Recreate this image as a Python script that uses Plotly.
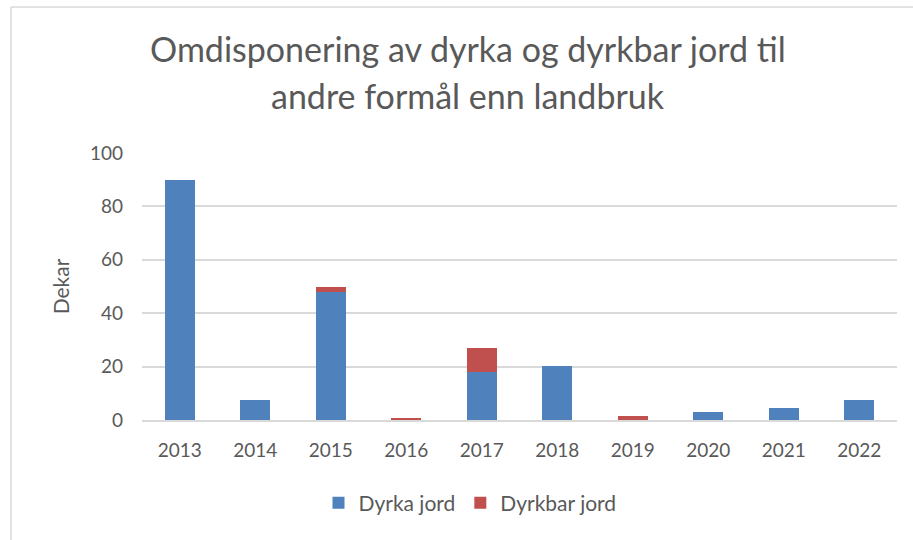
import plotly.graph_objects as go

years = ["2013", "2014", "2015", "2016", "2017", "2018", "2019", "2020", "2021", "2022"]
dyrka_jord = [90, 7.5, 48, 0, 18, 20.2, 0, 3, 4.4, 7.4]
dyrkbar_jord = [0, 0, 2, 0.8, 9, 0, 1.4, 0, 0, 0]
title_lines = ["Omdisponering av dyrka og dyrkbar jord til", "andre formål enn landbruk"]
y_title = "Dekar"

W, H = 913, 540
L, R, T, B = 142, 16, 153, 120
pw, ph = W - L - R, H - T - B

def px_x(x):
    return (x - L) / pw

def px_y(y):
    return (H - B - y) / ph

txt = "#595959"
font_family = "Lato, 'Open Sans', sans-serif"

fig = go.Figure()
fig.add_trace(go.Bar(x=years, y=dyrka_jord, name="Dyrka jord",
                     marker=dict(color="#4f81bd", line=dict(width=0))))
fig.add_trace(go.Bar(x=years, y=dyrkbar_jord, name="Dyrkbar jord",
                     marker=dict(color="#c0504d", line=dict(width=0))))

annotations = []
for line, yy in zip(title_lines, [49, 96]):
    annotations.append(dict(text=line, xref="paper", yref="paper",
                            x=px_x(468), y=px_y(yy), xanchor="center", yanchor="middle",
                            showarrow=False, font=dict(size=34, color=txt, family=font_family)))

fig.update_layout(
    width=W, height=H,
    margin=dict(l=L, r=R, t=T, b=B),
    barmode="stack", bargap=0.6,
    paper_bgcolor="white", plot_bgcolor="white",
    font=dict(family=font_family, color=txt, size=19),
    showlegend=True,
    legend=dict(orientation="h", x=px_x(470), y=px_y(503), xanchor="center", yanchor="middle",
                font=dict(size=21, color=txt), itemwidth=30, traceorder="normal"),
    annotations=annotations,
    shapes=[
        dict(type="line", xref="paper", yref="paper", x0=px_x(11), x1=px_x(11), y0=px_y(7), y1=px_y(545),
             line=dict(color="#d9d9d9", width=1.5)),
        dict(type="line", xref="paper", yref="paper", x0=px_x(11), x1=px_x(920), y0=px_y(7), y1=px_y(7),
             line=dict(color="#d9d9d9", width=1.5)),
    ],
)
fig.update_xaxes(showgrid=False, showline=True, linecolor="#d9d9d9", linewidth=1.5,
                 ticks="", tickfont=dict(size=19, color=txt), ticklabelstandoff=12)
fig.update_yaxes(range=[0, 100], dtick=20, showgrid=True, gridcolor="#d9d9d9", gridwidth=1.5,
                 zeroline=False, showline=False, ticks="", tickfont=dict(size=19, color=txt),
                 ticklabelstandoff=18,
                 title=dict(text=y_title, font=dict(size=21, color=txt), standoff=14))

fig.write_html("out.html", config={"displayModeBar": False},
               post_script="document.body.style.margin='0';")
